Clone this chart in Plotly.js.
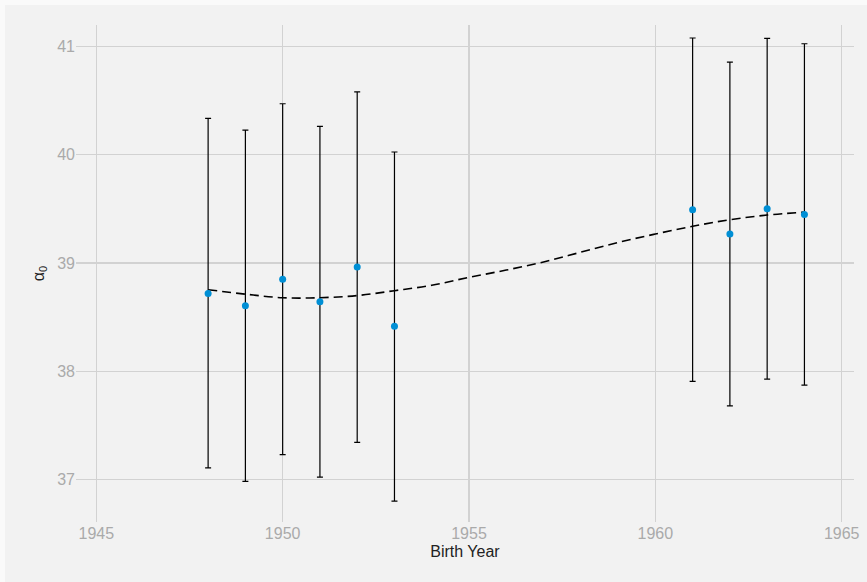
<!DOCTYPE html>
<html>
<head>
<meta charset="utf-8">
<script src="https://cdn.plot.ly/plotly-3.0.1.min.js"></script>
<style>
html, body { margin: 0; padding: 0; background: #fafafa; width: 867px; height: 582px; overflow: hidden; }
#chart { position: absolute; left: 5px; top: 5px; width: 862px; height: 577px; }
</style>
</head>
<body>
<div id="chart"></div>
<script>
// Observed estimates with confidence intervals
const birthYears = [1948, 1949, 1950, 1951, 1952, 1953, 1961, 1962, 1963, 1964];
const alpha0 = [38.72, 38.605, 38.85, 38.643, 38.963, 38.416, 39.492, 39.268, 39.501, 39.449];
const upper = [40.335, 40.227, 40.47, 40.262, 40.58, 40.025, 41.077, 40.855, 41.074, 41.024];
const lower = [37.11, 36.985, 37.231, 37.025, 37.345, 36.803, 37.907, 37.681, 37.928, 37.874];

// Smoothed trend (dashed)
const trendYears = [1948, 1949, 1950, 1951, 1952, 1953, 1954, 1955, 1956, 1957, 1958, 1959, 1960, 1961, 1962, 1963, 1964];
const trendValues = [38.754, 38.713, 38.68, 38.68, 38.70, 38.745, 38.795, 38.868, 38.935, 39.01, 39.10, 39.19, 39.268, 39.339, 39.40, 39.443, 39.47];

const errPlus = upper.map((u, i) => u - alpha0[i]);
const errMinus = lower.map((l, i) => alpha0[i] - l);

const traces = [
  {
    x: trendYears, y: trendValues, type: 'scatter', mode: 'lines',
    line: { color: '#000000', width: 1.6, dash: '9px,5px', shape: 'spline' },
    hoverinfo: 'skip', showlegend: false
  },
  {
    x: birthYears, y: alpha0, type: 'scatter', mode: 'markers',
    marker: { color: '#008fd5', size: 7 },
    error_y: { type: 'data', symmetric: false, array: errPlus, arrayminus: errMinus,
               color: '#000000', thickness: 1.2, width: 3 },
    showlegend: false
  }
];

const layout = {
  width: 862, height: 577,
  paper_bgcolor: '#f2f2f2', plot_bgcolor: '#f2f2f2',
  margin: { l: 71, r: 13, t: 20, b: 60 },
  font: { family: 'Liberation Sans, Arial, sans-serif', size: 16, color: '#222222' },
  showlegend: false,
  xaxis: {
    range: [1944.455, 1965.33], tickmode: 'linear', tick0: 1945, dtick: 5,
    showgrid: true, gridcolor: '#d2d2d2', gridwidth: 1.4, zeroline: false,
    showline: false, ticks: '', ticklen: 0,
    tickfont: { size: 16, color: '#aaaaaa' },
    title: { text: 'Birth Year', font: { size: 16, color: '#222222' }, standoff: 4 }
  },
  yaxis: {
    range: [36.61, 41.197], tickmode: 'linear', tick0: 37, dtick: 1,
    showgrid: true, gridcolor: '#d2d2d2', gridwidth: 1.4, zeroline: false,
    showline: false, ticks: '', ticklen: 0,
    tickfont: { size: 16, color: '#aaaaaa' },
    title: { text: 'α<sub>0</sub>', font: { size: 16, color: '#222222' }, standoff: 8 }
  }
};

Plotly.newPlot('chart', traces, layout, { displayModeBar: false, staticPlot: true });
</script>
</body>
</html>
